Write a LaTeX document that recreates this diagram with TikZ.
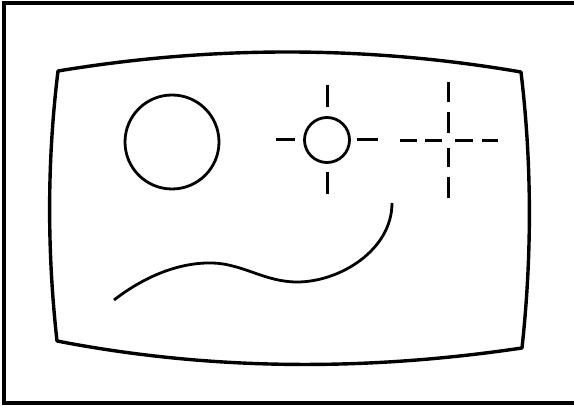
\documentclass[tikz,border=0pt]{standalone}
\begin{document}
\begin{tikzpicture}[x=1pt,y=-1pt,
  frame/.style={line width=3.3pt},
  screen/.style={line width=3.4pt, line join=round},
  figline/.style={line width=2.8pt},
  dashseg/.style={line width=3pt}]
\useasboundingbox (0,0) rectangle (574,406);
% outer frame (right side outside picture)
\draw[frame] (578,3) -- (4,3) -- (4,403) -- (578,403);
% screen outline
\draw[screen] (58,71) .. controls (212,45.5) and (367,45.5) .. (521,72)
  .. controls (532,164) and (532,256) .. (522,348)
  .. controls (367,371) and (212,371) .. (57,341)
  .. controls (47,251) and (47,161) .. cycle;
% big circle
\draw[figline] (172,142) circle[radius=47];
% small circle with ticks
\draw[figline] (327,140) circle[radius=22.5];
\draw[dashseg] (327,85) -- (327,107);
\draw[dashseg] (327,172) -- (327,194);
\draw[dashseg] (276,140) -- (295,140);
\draw[dashseg] (357,140) -- (378,140);
% dashed cross
\foreach \a/\b in {82/102,112/133,148/167,177/198}
  \draw[dashseg] (448,\a) -- (448,\b);
\foreach \a/\b in {400/417,425/442,455/473,482/498}
  \draw[dashseg] (\a,141) -- (\b,141);
% curve
\draw[figline] (114,300) .. controls (145,276) and (180,262) .. (213,263)
  .. controls (243,264) and (265,282) .. (297,282)
  .. controls (340,282) and (392,250) .. (392,203);
\end{tikzpicture}
\end{document}
